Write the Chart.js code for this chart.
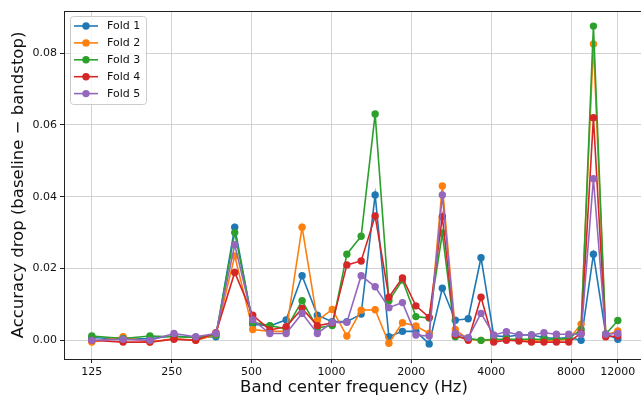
<!DOCTYPE html>
<html>
<head>
<meta charset="utf-8">
<script src="https://cdn.jsdelivr.net/npm/chart.js@4.4.1/dist/chart.umd.min.js"></script>
<style>
	html, body { margin: 0; padding: 0; background: #fff; overflow: hidden; }
	#wrap { position: relative; width: 648px; height: 399px; }
</style>
</head>
<body>
<div id="wrap"><canvas id="c"></canvas></div>
<script>
// band centers (Hz)
const freqs = [125, 164, 207, 255, 308, 367, 432, 505, 586, 675, 775, 885, 1007, 1143, 1294, 1461, 1646, 1852,
	2081, 2335, 2617, 2929, 3276, 3661, 4088, 4563, 5089, 5673, 6322, 7041, 7840, 8727, 9710, 10802, 12000];

const fold1 = [0.0008, 0.0003, 0.0005, 0.0012, 0.0008, 0.0010, 0.0315, 0.0045, 0.0040, 0.0057, 0.0180, 0.0070,
	0.0052, 0.0052, 0.0073, 0.0405, 0.0010, 0.0025, 0.0025, -0.0010, 0.0145, 0.0056, 0.0060, 0.0230, 0.0013,
	0.0010, 0.0015, 0.0015, 0.0008, 0.0005, 0.0008, 0.0000, 0.0240, 0.0018, 0.0003];
const fold2 = [-0.0005, 0.0010, -0.0005, 0.0005, 0.0000, 0.0015, 0.0235, 0.0030, 0.0025, 0.0025, 0.0315, 0.0055,
	0.0086, 0.0012, 0.0084, 0.0085, -0.0008, 0.0049, 0.0040, 0.0019, 0.0430, 0.0030, 0.0003, 0.0000, 0.0000,
	0.0003, 0.0000, -0.0003, 0.0000, 0.0000, 0.0003, 0.0045, 0.0825, 0.0015, 0.0026];
const fold3 = [0.0012, 0.0005, 0.0012, 0.0010, 0.0008, 0.0015, 0.0300, 0.0050, 0.0041, 0.0032, 0.0110, 0.0035,
	0.0041, 0.0240, 0.0290, 0.0630, 0.0110, 0.0168, 0.0066, 0.0062, 0.0298, 0.0010, 0.0006, 0.0000, 0.0003,
	0.0003, 0.0003, 0.0003, 0.0003, 0.0003, 0.0005, 0.0030, 0.0875, 0.0017, 0.0055];
const fold4 = [0.0000, -0.0005, -0.0005, 0.0003, 0.0000, 0.0021, 0.0189, 0.0070, 0.0029, 0.0038, 0.0089, 0.0041,
	0.0048, 0.0210, 0.0221, 0.0346, 0.0120, 0.0174, 0.0096, 0.0064, 0.0344, 0.0015, 0.0000, 0.0120, -0.0005,
	0.0000, -0.0002, -0.0005, -0.0005, -0.0005, -0.0005, 0.0020, 0.0620, 0.0010, 0.0012];
const fold5 = [0.0000, 0.0003, 0.0000, 0.0019, 0.0010, 0.0019, 0.0266, 0.0057, 0.0019, 0.0019, 0.0075, 0.0019,
	0.0050, 0.0050, 0.0180, 0.0149, 0.0091, 0.0105, 0.0015, 0.0012, 0.0405, 0.0019, 0.0007, 0.0075, 0.0015,
	0.0024, 0.0015, 0.0015, 0.0021, 0.0017, 0.0017, 0.0017, 0.0450, 0.0017, 0.0019];

const folds = [fold1, fold2, fold3, fold4, fold5];
const labels = ["Fold 1", "Fold 2", "Fold 3", "Fold 4", "Fold 5"];
const colors = ["#1f77b4", "#ff7f0e", "#2ca02c", "#d62728", "#9467bd"];

const xTicks = [125, 250, 500, 1000, 2000, 4000, 8000, 12000];
const yTicks = [0, 0.02, 0.04, 0.06, 0.08];

const font = "'DejaVu Sans', sans-serif";

// box round the plot + legend inside top left, like matplotlib
const framePlugin = {
	id: "frame",
	afterDatasetsDraw(chart) {
		const { ctx, chartArea: a } = chart;
		ctx.save();
		ctx.strokeStyle = "#222";
		ctx.lineWidth = 1;
		ctx.strokeRect(a.left + 0.5, a.top + 0.5, a.right - a.left, a.bottom - a.top);
		ctx.restore();
	},
	afterDraw(chart) {
		const ctx = chart.ctx;
		ctx.save();
		ctx.beginPath();
		ctx.roundRect(70.5, 16.5, 76, 88, 3);
		ctx.fillStyle = "rgba(255,255,255,0.8)";
		ctx.fill();
		ctx.strokeStyle = "#cccccc";
		ctx.lineWidth = 1;
		ctx.stroke();
		ctx.font = "11px " + font;
		ctx.textBaseline = "middle";
		labels.forEach((label, i) => {
			const y = 26 + i * 16.9;
			ctx.strokeStyle = colors[i];
			ctx.lineWidth = 1.6;
			ctx.beginPath();
			ctx.moveTo(74, y);
			ctx.lineTo(98, y);
			ctx.stroke();
			ctx.fillStyle = colors[i];
			ctx.beginPath();
			ctx.arc(86, y, 3.7, 0, Math.PI * 2);
			ctx.fill();
			ctx.fillStyle = "#111";
			ctx.fillText(label, 107, y + 0.5);
		});
		ctx.restore();
	}
};

new Chart(document.getElementById("c"), {
	type: "line",
	data: {
		datasets: folds.map((values, i) => ({
			label: labels[i],
			data: values.map((v, j) => ({ x: freqs[j], y: v })),
			borderColor: colors[i],
			backgroundColor: colors[i],
			pointBackgroundColor: colors[i],
			pointBorderWidth: 0,
			pointRadius: 3.7,
			borderWidth: 1.6,
			tension: 0,
			order: 5 - i
		}))
	},
	options: {
		responsive: true,
		maintainAspectRatio: false,
		animation: false,
		events: [],
		layout: { padding: { top: 11, right: 1, left: 0, bottom: 0 } },
		plugins: {
			legend: { display: false },
			tooltip: { enabled: false }
		},
		scales: {
			x: {
				type: "logarithmic",
				min: 98.2,
				max: 15060,
				afterBuildTicks: s => { s.ticks = xTicks.map(v => ({ value: v })); },
				afterFit: s => { s.height = 40; },
				ticks: {
					autoSkip: false,
					maxRotation: 0,
					padding: 3,
					color: "#111",
					font: { family: font, size: 11 },
					callback: v => String(v)
				},
				grid: { color: "#d3d3d3", tickColor: "#222", tickLength: 4 },
				border: { color: "#222" },
				title: {
					display: true,
					text: "Band center frequency (Hz)",
					color: "#111",
					font: { family: font, size: 16.5 },
					padding: { top: 0, bottom: 1 }
				}
			},
			y: {
				min: -0.0052,
				max: 0.0917,
				afterBuildTicks: s => { s.ticks = yTicks.map(v => ({ value: v })); },
				afterFit: s => { s.width = 64; },
				ticks: {
					padding: 3,
					color: "#111",
					font: { family: font, size: 11 },
					callback: v => v.toFixed(2)
				},
				grid: { color: "#d3d3d3", tickColor: "#222", tickLength: 4 },
				border: { color: "#222" },
				title: {
					display: true,
					text: "Accuracy drop (baseline \u2212 bandstop)",
					color: "#111",
					font: { family: font, size: 16.5 },
					padding: { top: 9, bottom: 0 }
				}
			}
		}
	},
	plugins: [framePlugin]
});
</script>
</body>
</html>
